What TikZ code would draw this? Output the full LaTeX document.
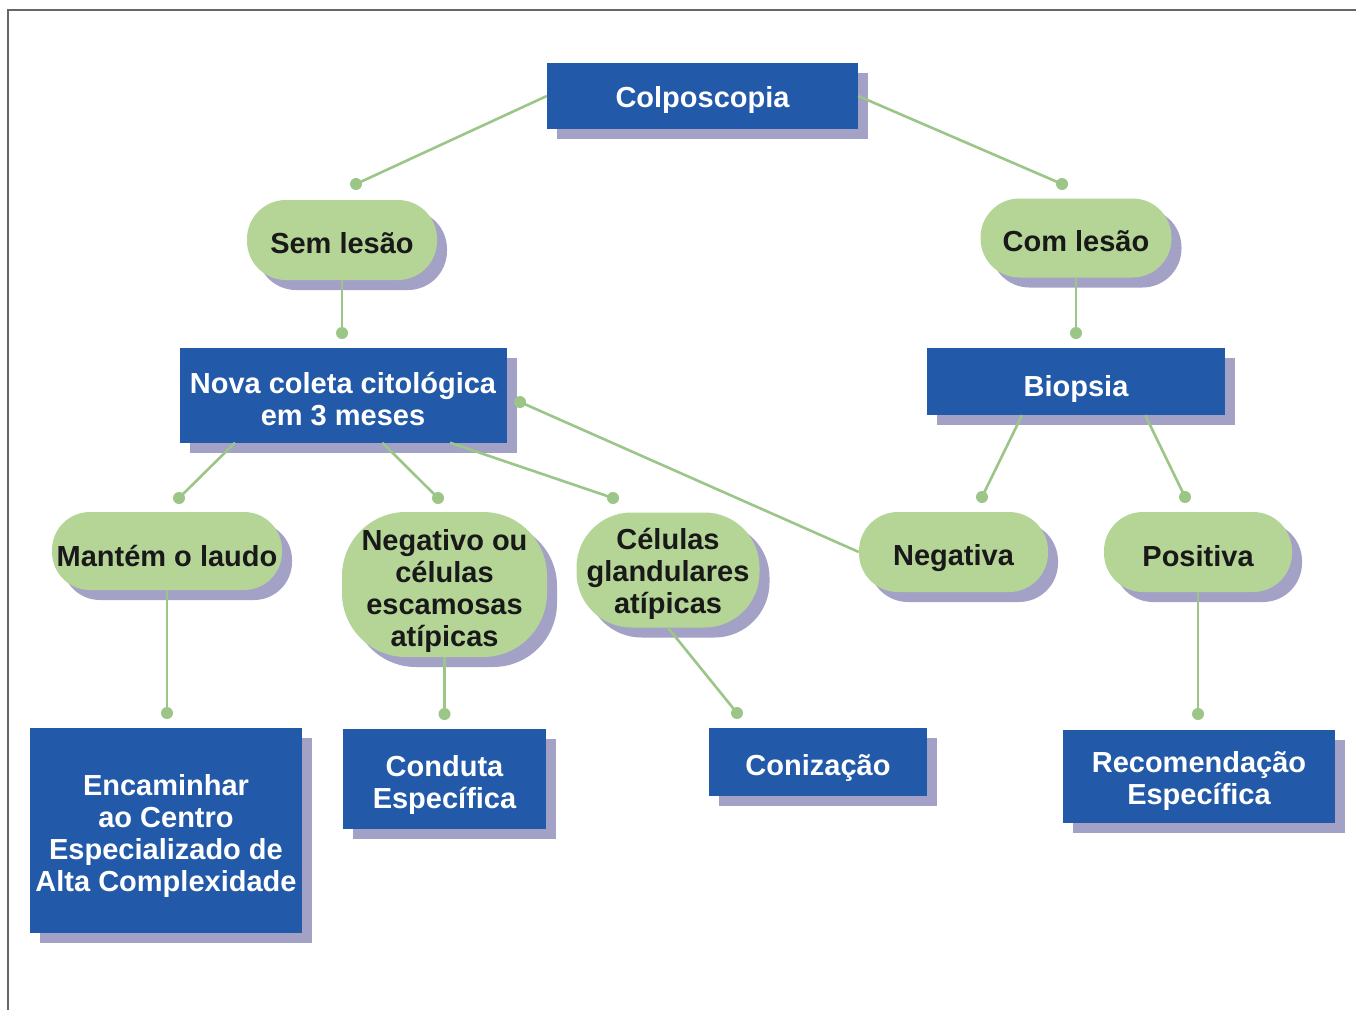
\documentclass[tikz,border=0pt]{standalone}
\usepackage{fontspec}
\setmainfont{Liberation Sans}
\usetikzlibrary{shadows,calc}
\definecolor{boxblue}{HTML}{2259A9}
\definecolor{shadowc}{HTML}{A3A1C6}
\definecolor{pillgreen}{HTML}{B5D597}
\definecolor{linegreen}{HTML}{9BC688}
\definecolor{framegray}{HTML}{666666}
\begin{document}
\begin{tikzpicture}[x=1pt,y=-1pt,
  lbl/.style={font=\bfseries\fontsize{29}{32}\selectfont, align=center, inner sep=0pt},
  wlbl/.style={lbl, text=white},
  blbl/.style={lbl, text=black!90},
  bluebox/.style={rectangle, fill=boxblue, inner sep=0pt,
    drop shadow={shadow xshift=10pt, shadow yshift=-10pt, fill=shadowc, opacity=1}},
  pill/.style={rectangle, fill=pillgreen, inner sep=0pt,
    drop shadow={shadow xshift=10pt, shadow yshift=-10pt, fill=shadowc, opacity=1}},
  conn/.style={draw=linegreen, line width=2.6pt},
  dotc/.style={fill=linegreen}
]
\useasboundingbox (0,0) rectangle (1356,1010);
\fill[white] (0,0) rectangle (1356,1010);
\draw[framegray, line width=1.5pt] (8,1010) -- (8,10) -- (1356,10);

% shapes
\node[bluebox, minimum width=311pt, minimum height=66pt] (colp) at (702.5,96) {};
\node[pill, minimum width=190pt, minimum height=80pt, rounded corners=39pt] (sem) at (342,240) {};
\node[pill, minimum width=191pt, minimum height=79pt, rounded corners=39pt] (com) at (1076,238) {};
\node[bluebox, minimum width=327pt, minimum height=95pt] (nova) at (343,395) {};
\node[bluebox, minimum width=298pt, minimum height=67pt] (biop) at (1076,381.5) {};
\node[pill, minimum width=230pt, minimum height=78pt, rounded corners=38pt] (mant) at (167,551) {};
\node[pill, minimum width=205pt, minimum height=145pt, rounded corners=64pt] (negou) at (444.5,584.5) {};
\node[pill, minimum width=183pt, minimum height=115pt, rounded corners=55pt] (gland) at (668,570) {};
\node[pill, minimum width=189pt, minimum height=80pt, rounded corners=39pt] (nega) at (953.5,552) {};
\node[pill, minimum width=188pt, minimum height=80pt, rounded corners=39pt] (posi) at (1198,552) {};
\node[bluebox, minimum width=272pt, minimum height=205pt] (enc) at (166,830.5) {};
\node[bluebox, minimum width=203pt, minimum height=100pt] (cond) at (444.5,779) {};
\node[bluebox, minimum width=218pt, minimum height=68pt] (coni) at (818,762) {};
\node[bluebox, minimum width=272pt, minimum height=93pt] (reco) at (1199,776.5) {};

% texts
\node[wlbl] (colp-t) at ($(colp)+(0,4)$) {Colposcopia};
\node[blbl] (sem-t) at ($(sem)+(0,3)$) {Sem lesão};
\node[blbl] (com-t) at ($(com)+(0,3)$) {Com lesão};
\node[wlbl] (nova-t) at ($(nova)+(0,4)$) {Nova coleta citológica\\em 3 meses};
\node[wlbl] (biop-t) at ($(biop)+(0,7)$) {Biopsia};
\node[blbl] (mant-t) at ($(mant)+(0,5)$) {Mantém o laudo};
\node[blbl] (negou-t) at ($(negou)+(0,6)$) {Negativo ou\\células\\escamosas\\atípicas};
\node[blbl] (gland-t) at ($(gland)+(0,4)$) {Células\\glandulares\\atípicas};
\node[blbl] (nega-t) at ($(nega)+(0,6)$) {Negativa};
\node[blbl] (posi-t) at ($(posi)+(0,4)$) {Positiva};
\node[wlbl] (enc-t) at ($(enc)+(0,5)$) {Encaminhar\\ao Centro\\Especializado de\\Alta Complexidade};
\node[wlbl] (cond-t) at ($(cond)+(0,6)$) {Conduta\\Específica};
\node[wlbl] (coni-t) at ($(coni)+(0,6)$) {Conização};
\node[wlbl] (reco-t) at ($(reco)+(0,4)$) {Recomendação\\Específica};

% free ends (dots)
\coordinate (d1) at (356,184);
\coordinate (d2) at (1062,184);
\coordinate (d3) at (342,333);
\coordinate (d4) at (1076,333);
\coordinate (d5) at (179,498);
\coordinate (d6) at (438,498);
\coordinate (d7) at (613,498);
\coordinate (d8) at (520,402);
\coordinate (d9) at (982,497);
\coordinate (d10) at (1185,497);
\coordinate (d11) at (167,713);
\coordinate (d12) at (444.5,714);
\coordinate (d13) at (737,713);
\coordinate (d14) at (1198,714);

% connectors
\draw[conn] (colp.west) -- (d1);
\draw[conn] (colp.east) -- (d2);
\draw[conn] (sem.south) -- (d3);
\draw[conn] (com.south) -- (d4);
\draw[conn] ($(nova.south west)!0.17!(nova.south east)$) -- (d5);
\draw[conn] ($(nova.south west)!0.62!(nova.south east)$) -- (d6);
\draw[conn] ($(nova.south west)!0.827!(nova.south east)$) -- (d7);
\draw[conn] (nega.west) -- (d8);
\draw[conn] ($(biop.south west)!0.319!(biop.south east)$) -- (d9);
\draw[conn] ($(biop.south west)!0.732!(biop.south east)$) -- (d10);
\draw[conn] (mant.south) -- (d11);
\draw[conn] (negou.south) -- (d12);
\draw[conn] (gland.south) -- (d13);
\draw[conn] (posi.south) -- (d14);
\foreach \d in {d1,d2,d3,d4,d5,d6,d7,d8,d9,d10,d11,d12,d13,d14}
  \fill[dotc] (\d) circle (6pt);
\end{tikzpicture}
\end{document}
